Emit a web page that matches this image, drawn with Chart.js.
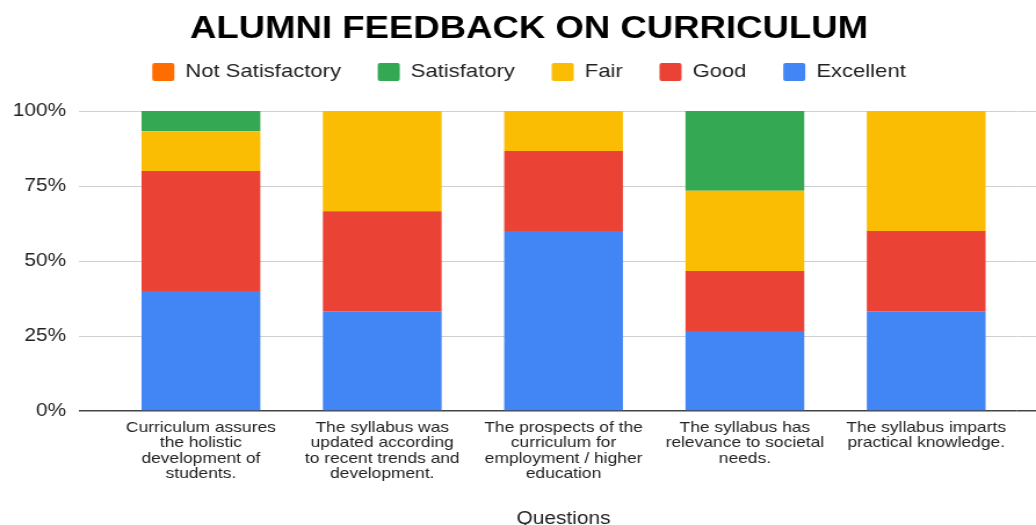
<!DOCTYPE html>
<html lang="en">
<head>
  <meta charset="UTF-8">
  <title>Alumni Feedback on Curriculum</title>
  <script src="https://cdn.jsdelivr.net/npm/chart.js"></script>
  <style>
    body { margin: 0; background: #fff; }
    /* the source image is stretched sideways, so the canvas is drawn narrower and widened by css */
    #chart { display: block; width: 1036px; height: 525px; }
  </style>
</head>
<body>
  <canvas id="chart" width="893" height="525" style="width:1036px;height:525px"></canvas>
  <script>
    // --- data (share of answers, %) ---
    const questions = [
      ['Curriculum assures', 'the holistic', 'development of', 'students.'],
      ['The syllabus was', 'updated according', 'to recent trends and', 'development.'],
      ['The prospects of the', 'curriculum for', 'employment / higher', 'education'],
      ['The syllabus has', 'relevance to societal', 'needs.'],
      ['The syllabus imparts', 'practical knowledge.']
    ];
    const excellent = [40, 33.3, 60, 26.7, 33.3];
    const good = [40, 33.3, 26.7, 20, 26.7];
    const fair = [13.3, 33.4, 13.3, 26.7, 40];
    const satisfactory = [6.7, 0, 0, 26.6, 0];
    const notSatisfactory = [0, 0, 0, 0, 0];
    const yTicks = [0, 25, 50, 75, 100];

    const font = 'Arial, "Liberation Sans", sans-serif';
    const isZero = c => c.tick && c.tick.value === 0;

    // grid lines run past the plot area to the right edge
    const gridExtend = {
      id: 'gridExtend',
      beforeDatasetsDraw(chart) {
        const { ctx, chartArea, scales } = chart;
        ctx.save();
        yTicks.forEach(v => {
          const w = v === 0 ? 1.5 : 1;
          const y = Math.round(scales.y.getPixelForValue(v) - w / 2) + w / 2;
          ctx.strokeStyle = v === 0 ? '#444' : '#d0d0d0';
          ctx.lineWidth = w;
          ctx.beginPath();
          ctx.moveTo(chartArea.right, y);
          ctx.lineTo(chart.width, y);
          ctx.stroke();
        });
        ctx.restore();
      }
    };

    // extra room under the legend, and title + legend nudged a bit to the right
    const headerTweak = {
      id: 'headerTweak',
      beforeInit(chart) {
        const fit = chart.legend.fit;
        chart.legend.fit = function () {
          fit.call(this);
          this.height += 19.5;
        };
      },
      afterLayout(chart) {
        [chart.legend, chart.titleBlock].forEach(b => {
          b.left += 17.75;
          b.right += 17.75;
        });
      }
    };

    new Chart(document.getElementById('chart'), {
      type: 'bar',
      data: {
        labels: questions,
        datasets: [
          { label: 'Excellent', data: excellent, backgroundColor: '#4285F4' },
          { label: 'Good', data: good, backgroundColor: '#EA4335' },
          { label: 'Fair', data: fair, backgroundColor: '#FBBC04' },
          { label: 'Satisfatory', data: satisfactory, backgroundColor: '#34A853' },
          { label: 'Not Satisfactory', data: notSatisfactory, backgroundColor: '#FF6D01' }
        ]
      },
      options: {
        responsive: false,
        animation: false,
        categoryPercentage: 1,
        barPercentage: 0.655,
        layout: { padding: { left: 0, right: 16.5, top: 0, bottom: 0 } },
        plugins: {
          title: {
            display: true,
            text: 'ALUMNI FEEDBACK ON CURRICULUM',
            color: '#000',
            font: { family: font, size: 31.5, weight: 'bold', lineHeight: 0.12 },
            padding: { top: 27.1, bottom: 0 }
          },
          legend: {
            reverse: true,
            labels: {
              color: '#222',
              font: { family: font, size: 19 },
              boxWidth: 19,
              boxHeight: 18,
              useBorderRadius: true,
              borderRadius: 2,
              padding: 31.7
            }
          },
          tooltip: { enabled: false }
        },
        scales: {
          x: {
            stacked: true,
            grid: { display: false, drawTicks: false },
            border: { display: false },
            ticks: {
              color: '#222',
              font: { family: font, size: 15, lineHeight: 1.033 },
              maxRotation: 0,
              autoSkip: false,
              padding: 9
            },
            title: {
              display: true,
              text: 'Questions',
              color: '#222',
              font: { family: font, size: 18, lineHeight: 0.667 },
              padding: { top: 22, bottom: 0 }
            }
          },
          y: {
            stacked: true,
            min: 0,
            max: 100,
            border: { display: false },
            grid: {
              color: c => isZero(c) ? '#444' : '#d0d0d0',
              tickColor: c => isZero(c) ? '#444' : '#d0d0d0',
              lineWidth: c => isZero(c) ? 1.5 : 1,
              drawTicks: true,
              tickLength: 27
            },
            ticks: {
              stepSize: 25,
              color: '#222',
              font: { family: font, size: 18 },
              padding: 11,
              callback: v => v + '%'
            }
          }
        }
      },
      plugins: [gridExtend, headerTweak]
    });
  </script>
</body>
</html>
